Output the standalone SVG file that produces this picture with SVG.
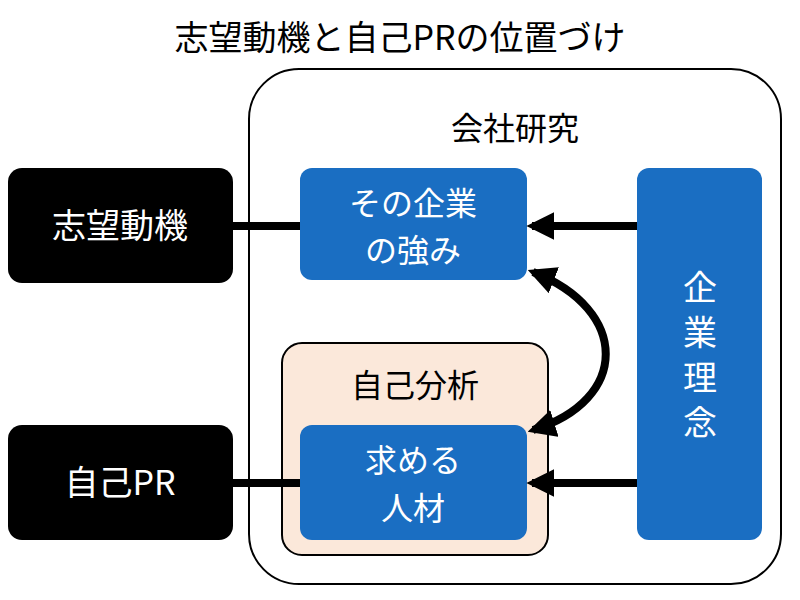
<svg xmlns="http://www.w3.org/2000/svg" width="800" height="600" viewBox="0 0 800 600">
<style>
text{font-family:"Noto Sans CJK JP","Noto Sans",sans-serif;}
.blk{fill:#000;}
.blue{fill:#1a6ec2;}
.wt{fill:#fff;font-size:34px;text-anchor:middle;}
.bt{fill:#000;font-size:32px;text-anchor:middle;}
.ln{stroke:#000;stroke-width:8;fill:none;}
</style>
<defs>
<marker id="ah" viewBox="0 0 10 10" refX="8" refY="5" markerWidth="3.5" markerHeight="3.5" orient="auto-start-reverse" markerUnits="strokeWidth">
<path d="M0,0L10,5L0,10z" fill="#000"/>
</marker>
</defs>
<rect width="800" height="600" fill="#fff"/>
<text x="400" y="50" class="bt" style="font-size:34px">志望動機と自己PRの位置づけ</text>
<g id="company">
<rect x="249" y="69" width="532" height="515" rx="50" fill="#fff" stroke="#000" stroke-width="2"/>
<text x="515" y="140" class="bt">会社研究</text>
</g>
<g id="shibou">
<rect x="8" y="168" width="225" height="115" rx="14" class="blk"/>
<text x="120" y="238" class="wt">志望動機</text>
</g>
<g id="jikopr">
<rect x="8" y="425" width="225" height="115" rx="14" class="blk"/>
<text x="120" y="495" class="wt">自己PR</text>
</g>
<g id="tsuyomi">
<rect x="300" y="168" width="227" height="112" rx="12" class="blue"/>
<text x="413" y="215" class="wt" style="font-size:32px">その企業</text>
<text x="413" y="262" class="wt" style="font-size:32px">の強み</text>
</g>
<g id="jikobunseki">
<rect x="282" y="343" width="266" height="212" rx="20" fill="#fbe8da" stroke="#000" stroke-width="2"/>
<text x="415" y="397" class="bt">自己分析</text>
</g>
<g id="jinzai">
<rect x="300" y="425" width="227" height="115" rx="12" class="blue"/>
<text x="413" y="472" class="wt" style="font-size:32px">求める</text>
<text x="413" y="520" class="wt" style="font-size:32px">人材</text>
</g>
<g id="rinen">
<rect x="637" y="168" width="125" height="372" rx="12" class="blue"/>
<text x="700" y="300" class="wt" style="font-size:34px">企</text>
<text x="700" y="345" class="wt" style="font-size:34px">業</text>
<text x="700" y="390" class="wt" style="font-size:34px">理</text>
<text x="700" y="435" class="wt" style="font-size:34px">念</text>
</g>
<g id="connectors">
<line x1="233" y1="226" x2="300" y2="226" class="ln"/>
<line x1="233" y1="483" x2="300" y2="483" class="ln"/>
<line x1="637" y1="226" x2="532" y2="226" class="ln" marker-end="url(#ah)"/>
<line x1="637" y1="483" x2="532" y2="483" class="ln" marker-end="url(#ah)"/>
<path d="M533,272 C630,310 630,400 533,430" class="ln" marker-start="url(#ah)" marker-end="url(#ah)"/>
</g>
</svg>
